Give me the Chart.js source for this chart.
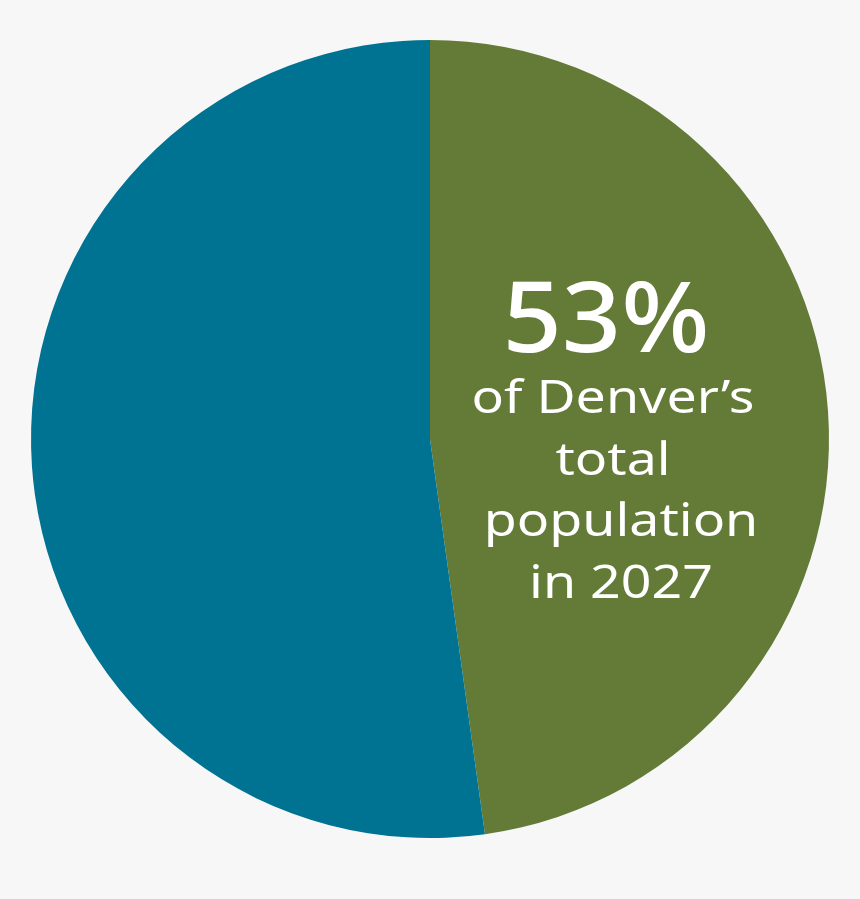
<!DOCTYPE html>
<html>
<head>
<meta charset="utf-8">
<script src="https://cdn.jsdelivr.net/npm/chart.js@4"></script>
<style>
  html, body { margin: 0; padding: 0; background: #f7f7f7; }
  #wrap { width: 860px; height: 899px; position: relative; }
</style>
</head>
<body>
<div id="wrap"><canvas id="denverChart"></canvas></div>
<script>
// slices, clockwise from 12 o'clock
const labels = ["Share of total population", "Rest of population"];
const values = [47.8, 52.2];
const colors = ["#647b37", "#007393"];

const headline = "53%";
const captionLines = ["of Denver\u2019s", "total", "population", "in 2027"];

// draw text stretched sideways so it takes the width of the original lettering
function wideText(ctx, text, cx, y, stretch) {
    ctx.save();
    ctx.translate(cx, y);
    ctx.scale(stretch, 1);
    ctx.fillText(text, 0, 0);
    ctx.restore();
}

const labelPlugin = {
    id: "sliceLabel",
    afterDraw(chart) {
        const ctx = chart.ctx;
        ctx.save();
        ctx.fillStyle = "#ffffff";
        ctx.textAlign = "center";
        ctx.textBaseline = "alphabetic";

        ctx.font = "500 98px 'Noto Sans', sans-serif";
        const hw = ctx.measureText(headline).width;
        wideText(ctx, headline, 606, 352, 207 / hw);

        ctx.font = "46px 'Noto Sans', sans-serif";
        const cw = ctx.measureText(captionLines[0]).width;
        const stretch = 283 / cw;
        let y = 413;
        captionLines.forEach(function(line, i) {
            wideText(ctx, line, i < 2 ? 613 : 621, y, stretch);
            y += 61.7;
        });
        ctx.restore();
    }
};

const myChart = new Chart("denverChart", {
    type: "pie",
    data: {
        labels: labels,
        datasets: [{
            data: values,
            backgroundColor: colors,
            borderWidth: 0
        }]
    },
    options: {
        responsive: true,
        maintainAspectRatio: false,
        animation: false,
        layout: { padding: { left: 31, right: 31, top: 40, bottom: 61 } },
        plugins: {
            legend: { display: false },
            tooltip: { enabled: false }
        }
    },
    plugins: [labelPlugin]
});
</script>
</body>
</html>
